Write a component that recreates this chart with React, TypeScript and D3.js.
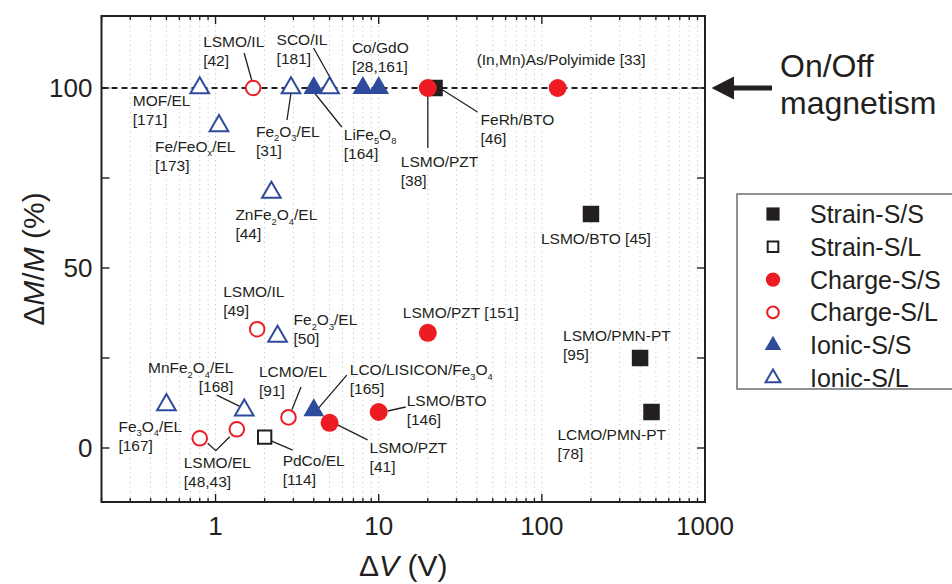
import * as d3 from 'd3'

// ---- data ----
const kinds = ['Strain-S/S', 'Strain-S/L', 'Charge-S/S', 'Charge-S/L', 'Ionic-S/S', 'Ionic-S/L']

const pointKind = [
  'Ionic-S/L', 'Charge-S/L', 'Ionic-S/L', 'Ionic-S/S', 'Ionic-S/L', 'Ionic-S/S', 'Ionic-S/S',
  'Strain-S/S', 'Charge-S/S', 'Charge-S/S', 'Ionic-S/L', 'Ionic-S/L', 'Charge-S/L', 'Ionic-S/L',
  'Charge-S/S', 'Strain-S/S', 'Strain-S/S', 'Strain-S/S', 'Ionic-S/L', 'Ionic-S/L', 'Charge-S/L',
  'Charge-S/L', 'Strain-S/L', 'Charge-S/L', 'Ionic-S/S', 'Charge-S/S', 'Charge-S/S',
]
const pointV = [
  0.8, 1.7, 2.9, 4, 5, 8, 10, 22, 20, 125, 1.05, 2.2, 1.8, 2.4, 20, 200, 400, 470, 1.5, 0.5, 0.8,
  1.35, 2, 2.8, 4, 5, 10,
]
const pointM = [
  100, 100, 100, 100, 100, 100, 100, 100, 100, 100, 89.5, 71, 33, 31, 32, 65, 25, 10, 10.5, 12, 2.7,
  5.2, 3, 8.5, 10.5, 7, 10,
]

// annotation: point index, text lines, offset from the point, optional leader (offsets)
const notes = [
  { at: 0, lines: ['MOF/EL', '[171]'], dx: -67, dy: 18 },
  { at: 1, lines: ['LSMO/IL', '[42]'], dx: -50, dy: -41, leader: [[-9, -35], [-1.5, -8]] },
  { at: 2, lines: ['Fe_2O_3/EL', '[31]'], dx: -35, dy: 49, leader: [[0, 5], [-4, 32]] },
  { at: 3, lines: ['LiFe_5O_8', '[164]'], dx: 30, dy: 52, leader: [[0, 4], [28, 39]] },
  { at: 4, lines: ['SCO/IL', '[181]'], dx: -53, dy: -43, leader: [[-16, -40], [3, -6]] },
  { at: 5, lines: ['Co/GdO', '[28,161]'], dx: -11, dy: -35 },
  { at: 8, lines: ['LSMO/PZT', '[38]'], dx: -27, dy: 79, leader: [[0, 2], [0, 60]] },
  { at: 7, lines: ['FeRh/BTO', '[46]'], dx: 46, dy: 37, leader: [[5, 0], [43, 24]] },
  { at: 9, lines: ['(In,Mn)As/Polyimide [33]'], dx: -81, dy: -23 },
  { at: 10, lines: ['Fe/FeO_x/EL', '[173]'], dx: -64, dy: 26 },
  { at: 11, lines: ['ZnFe_2O_4/EL', '[44]'], dx: -36, dy: 28 },
  { at: 12, lines: ['LSMO/IL', '[49]'], dx: -34, dy: -32 },
  { at: 13, lines: ['Fe_2O_3/EL', '[50]'], dx: 16, dy: -11 },
  { at: 14, lines: ['LSMO/PZT [151]'], dx: -25, dy: -15 },
  { at: 15, lines: ['LSMO/BTO [45]'], dx: -50, dy: 30 },
  { at: 16, lines: ['LSMO/PMN-PT', '[95]'], dx: -77, dy: -17 },
  { at: 17, lines: ['LCMO/PMN-PT', '[78]'], dx: -94, dy: 28 },
  { at: 18, lines: ['MnFe_2O_4/EL', '[168]'], dx: -11, dy: -37, end: true, leader: [[-27.5, -15], [-3, -3]] },
  { at: 19, lines: ['Fe_3O_4/EL', '[167]'], dx: -48, dy: 27 },
  { at: 20, lines: ['LSMO/EL', '[48,43]'], dx: -16, dy: 30, leader: [[8, 5], [16, 12.4], [30, -1.6]] },
  { at: 22, lines: ['PdCo/EL', '[114]'], dx: 18, dy: 29, leader: [[7, 4], [28, 13]] },
  { at: 23, lines: ['LCMO/EL', '[91]'], dx: -29.5, dy: -40, leader: [[12.5, -30.5], [3.5, -8]] },
  { at: 24, lines: ['LCO/LISICON/Fe_3O_4', '[165]'], dx: 36, dy: -35, leader: [[33, -35], [3, 0]] },
  { at: 25, lines: ['LSMO/PZT', '[41]'], dx: 40, dy: 30, leader: [[8, 2], [38, 17]] },
  { at: 26, lines: ['LSMO/BTO', '[146]'], dx: 28, dy: -6, leader: [[9, -1], [27, -5]] },
]

const yTicks = [0, 25, 50, 75, 100]
const yTickLabels = [0, 50, 100]
const xTickLabels = [1, 10, 100, 1000]

const RED = '#ed1c24'
const BLUE = '#2e4a9a'
const INK = '#231f20'
const FONT = '"Liberation Sans", Arial, Helvetica, sans-serif'

function markerStyle(kind, legend) {
  const k = legend ? 0.8 : 1
  const color = kind.startsWith('Strain') ? INK : kind.startsWith('Charge') ? RED : BLUE
  const open = kind.endsWith('S/L')
  let type = d3.symbolSquare
  let area = open ? 177 : 272
  if (kind.startsWith('Charge')) {
    type = d3.symbolCircle
    area = open ? 167 : 254
  } else if (kind.startsWith('Ionic')) {
    type = d3.symbolTriangle
    area = open ? 150 : 185
  }
  return {
    d: d3.symbol(type, area * k * k)(),
    fill: open ? '#fff' : color,
    stroke: open ? color : 'none',
    sw: open ? 2 : 0,
  }
}

function Rich({ text, x, y, size, anchor }) {
  const segs = []
  let buf = ''
  for (let i = 0; i < text.length; i++) {
    if (text[i] === '_' && i + 1 < text.length) {
      if (buf) segs.push({ t: buf, sub: false })
      buf = ''
      segs.push({ t: text[i + 1], sub: true })
      i++
    } else buf += text[i]
  }
  if (buf) segs.push({ t: buf, sub: false })
  const shift = size * 0.28
  let prevSub = false
  return (
    <text x={x} y={y} fontSize={size} textAnchor={anchor || 'start'} fill={INK}>
      {segs.map((s, i) => {
        let dy = 0
        if (s.sub && !prevSub) dy = shift
        if (!s.sub && prevSub) dy = -shift
        prevSub = s.sub
        return (
          <tspan key={i} dy={dy} fontSize={s.sub ? size * 0.6 : size}>
            {s.t}
          </tspan>
        )
      })}
    </text>
  )
}

export default function App() {
  const width = 952
  const height = 584
  const left = 101.5
  const right = 705
  const top = 16
  const bottom = 502

  const x = d3.scaleLog().domain([0.2, 1000]).range([left, right])
  const y = d3.scaleLinear().domain([-15, 120]).range([bottom, top])
  const xt = x.ticks()
  const isMajor = (v) => Math.abs(Math.log10(v) - Math.round(Math.log10(v))) < 1e-9

  const lineH = 18.8
  const labelSize = 15.5

  return (
    <svg
      width={width}
      height={height}
      viewBox={`0 0 ${width} ${height}`}
      style={{ position: 'absolute', left: 0, top: 0, background: '#fff' }}
      fontFamily={FONT}
    >
      <rect width={width} height={height} fill="#fff" />

      {/* dotted grid */}
      <g stroke="#c4c4c4" strokeWidth={1} strokeDasharray="1.2 3.6">
        {xt
          .filter((v) => x(v) > left + 1 && x(v) < right - 1)
          .map((v) => (
            <line key={v} x1={x(v)} x2={x(v)} y1={top} y2={bottom} />
          ))}
      </g>

      {/* ticks */}
      <g stroke={INK} strokeWidth={1.4}>
        {xt.map((v) => {
          const len = isMajor(v) ? 8 : 4
          return (
            <g key={v}>
              <line x1={x(v)} x2={x(v)} y1={bottom} y2={bottom - len} />
              <line x1={x(v)} x2={x(v)} y1={top} y2={top + len} />
            </g>
          )
        })}
        {yTicks.map((v) => (
          <g key={v}>
            <line x1={left} x2={left + 8} y1={y(v)} y2={y(v)} />
            <line x1={right} x2={right - 8} y1={y(v)} y2={y(v)} />
          </g>
        ))}
      </g>

      {/* on/off line */}
      <line
        x1={left}
        x2={right}
        y1={y(100)}
        y2={y(100)}
        stroke={INK}
        strokeWidth={2.2}
        strokeDasharray="6 4"
      />

      {/* leaders */}
      <g stroke={INK} strokeWidth={1.3} fill="none">
        {notes
          .filter((n) => n.leader)
          .map((n, i) => {
            const px = x(pointV[n.at])
            const py = y(pointM[n.at])
            const pts = n.leader.map(([a, b]) => [px + a, py + b])
            return <path key={i} d={d3.line()(pts)} />
          })}
      </g>

      {/* points */}
      <g>
        {pointV.map((v, i) => {
          const m = markerStyle(pointKind[i], false)
          return (
            <path
              key={i}
              d={m.d}
              transform={`translate(${x(v)},${y(pointM[i])})`}
              fill={m.fill}
              stroke={m.stroke}
              strokeWidth={m.sw}
            />
          )
        })}
      </g>

      {/* labels */}
      <g>
        {notes.map((n, i) => {
          const px = x(pointV[n.at]) + n.dx
          const py = y(pointM[n.at]) + n.dy
          return (
            <g key={i}>
              {n.lines.map((t, j) => (
                <Rich
                  key={j}
                  text={t}
                  x={px}
                  y={py + j * lineH}
                  size={labelSize}
                  anchor={n.end ? 'end' : 'start'}
                />
              ))}
            </g>
          )
        })}
      </g>

      {/* frame */}
      <rect
        x={left}
        y={top}
        width={right - left}
        height={bottom - top}
        fill="none"
        stroke={INK}
        strokeWidth={2}
      />

      {/* tick labels */}
      <g fill={INK} fontSize={26}>
        {yTickLabels.map((v) => (
          <text key={v} x={left - 9} y={y(v) + 9.3} textAnchor="end">
            {v}
          </text>
        ))}
        {xTickLabels.map((v) => (
          <text key={v} x={x(v)} y={bottom + 33} textAnchor="middle">
            {v}
          </text>
        ))}
      </g>

      {/* axis titles */}
      <text x={(left + right) / 2} y={576} textAnchor="middle" fontSize={30} fill={INK}>
        Δ<tspan fontStyle="italic">V</tspan> (V)
      </text>
      <text
        transform={`translate(44,${(top + bottom) / 2}) rotate(-90)`}
        textAnchor="middle"
        fontSize={30}
        fill={INK}
      >
        Δ<tspan fontStyle="italic">M</tspan>/<tspan fontStyle="italic">M</tspan> (%)
      </text>

      {/* on/off arrow */}
      <g fill={INK}>
        <line x1={733} x2={772} y1={y(100)} y2={y(100)} stroke={INK} strokeWidth={5} />
        <path d={`M${711.5},${y(100)} L${734},${y(100) - 11.5} L${734},${y(100) + 11.5} Z`} />
        <text x={780} y={77} fontSize={32}>
          On/Off
        </text>
        <text x={780} y={114} fontSize={32}>
          magnetism
        </text>
      </g>

      {/* legend */}
      <rect x={737} y={194} width={230} height={195} fill="#fff" stroke="#6d6e71" strokeWidth={1.5} />
      {kinds.map((k, i) => {
        const m = markerStyle(k, true)
        const ly = 214 + i * 32.8
        return (
          <g key={k}>
            <path
              d={m.d}
              transform={`translate(773,${ly})`}
              fill={m.fill}
              stroke={m.stroke}
              strokeWidth={m.sw}
            />
            <text x={810} y={ly + 9} fontSize={25} fill={INK}>
              {k}
            </text>
          </g>
        )
      })}
    </svg>
  )
}
